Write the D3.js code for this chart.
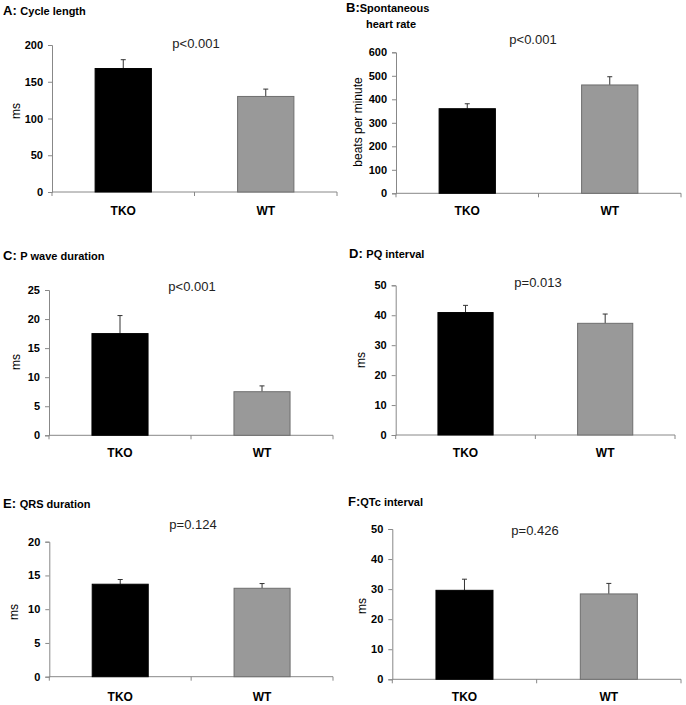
<!DOCTYPE html>
<html><head><meta charset="utf-8">
<script src="https://cdn.jsdelivr.net/npm/d3@7"></script>
<style>
html,body{margin:0;padding:0;background:#fff;}
svg{display:block;font-family:Arial,"Liberation Sans",sans-serif;}
</style></head>
<body>
<svg id="chart" width="686" height="705"></svg>
<script>
// ---- data ----
const categories = ["TKO", "WT"];
const panelLetters = ["A: ", "B:", "C: ", "D: ", "E: ", "F:"];
const panelTitles = [["Cycle length"], ["Spontaneous", "heart rate"], ["P wave duration"], ["PQ interval"], ["QRS duration"], ["QTc interval"]];
const yLabels = ["ms", "beats per minute", "ms", "ms", "ms", "ms"];
const pValues = ["p<0.001", "p<0.001", "p<0.001", "p=0.013", "p=0.124", "p=0.426"];
const meanTKO = [168, 360, 17.5, 40.9, 13.7, 29.6];
const meanWT  = [130, 461, 7.5, 37.3, 13.1, 28.4];
const errTKO  = [12, 21, 3.1, 2.4, 0.7, 3.7];
const errWT   = [10, 35, 1.0, 3.1, 0.7, 3.5];
const yMax    = [200, 600, 25, 50, 20, 50];
const yStep   = [50, 100, 5, 10, 5, 10];

// ---- layout (pixel geometry per panel) ----
const layout = [
  {x0:52,  x1:337, yT:45,  yB:192, tx:3,   ty:15,  px:196, py:48,  lx:16,  ly:111, cy:215},
  {x0:396, x1:681, yT:52.3,yB:193.3,tx:346, ty:12,  px:533, py:44,  lx:358, ly:122, cy:215},
  {x0:49,  x1:333, yT:290, yB:435.3,tx:3,   ty:260, px:192, py:291, lx:16,  ly:362, cy:457},
  {x0:395.7,x1:675,yT:285.3,yB:435, tx:349, ty:258, px:538, py:287, lx:361, ly:360, cy:457},
  {x0:49.3,x1:333, yT:541.7,yB:676.7,tx:3,  ty:507.5,px:193,py:529, lx:14,  ly:612, cy:701},
  {x0:392.3,x1:681,yT:529, yB:679.3,tx:348, ty:506, px:535, py:535, lx:362, ly:606, cy:701}
];

const svg = d3.select("#chart");
const axisColor = "#888";
const fills = ["#000000", "#999999"];
const strokes = ["#000000", "#6e6e6e"];

layout.forEach((L, i) => {
  const g = svg.append("g");
  const x = d3.scaleBand().domain(categories).range([L.x0, L.x1]).paddingInner(0).paddingOuter(0);
  const y = d3.scaleLinear().domain([0, yMax[i]]).range([L.yB, L.yT]);
  const ticks = d3.range(0, yMax[i] + yStep[i] / 2, yStep[i]);

  // y axis
  const ya = g.append("g").attr("transform", `translate(${L.x0},0)`)
    .call(d3.axisLeft(y).tickValues(ticks).tickSize(4).tickPadding(5).tickFormat(d3.format("d")));
  ya.select(".domain").attr("stroke", axisColor);
  ya.selectAll(".tick line").attr("stroke", axisColor);
  ya.selectAll(".tick text").attr("font-size", 11).attr("font-weight", "bold")
    .attr("fill", "#000").attr("font-family", "Arial, 'Liberation Sans', sans-serif");

  // x axis line + ticks at band boundaries
  g.append("line").attr("x1", L.x0).attr("x2", L.x1).attr("y1", L.yB).attr("y2", L.yB)
    .attr("stroke", axisColor).attr("stroke-width", 1);
  const bounds = [L.x0, x(categories[1]), L.x1];
  g.selectAll(".xt").data(bounds).enter().append("line")
    .attr("x1", d => d).attr("x2", d => d).attr("y1", L.yB).attr("y2", L.yB + 4)
    .attr("stroke", axisColor);

  const means = [meanTKO[i], meanWT[i]];
  const errs = [errTKO[i], errWT[i]];
  const bw = x.bandwidth() * 0.395;
  const data = categories.map((c, k) => ({c, v: means[k], e: errs[k], k}));

  // error bars (upper only)
  data.forEach(d => {
    const cx = x(d.c) + x.bandwidth() / 2;
    g.append("line").attr("x1", cx).attr("x2", cx).attr("y1", y(d.v)).attr("y2", y(d.v + d.e))
      .attr("stroke", "#333").attr("stroke-width", 1);
    g.append("line").attr("x1", cx - 2.5).attr("x2", cx + 2.5).attr("y1", y(d.v + d.e)).attr("y2", y(d.v + d.e))
      .attr("stroke", "#333").attr("stroke-width", 1);
  });

  // bars
  g.selectAll(".bar").data(data).enter().append("rect")
    .attr("x", d => x(d.c) + x.bandwidth() / 2 - bw / 2)
    .attr("width", bw)
    .attr("y", d => y(d.v))
    .attr("height", d => y(0) - y(d.v))
    .attr("fill", d => fills[d.k])
    .attr("stroke", d => strokes[d.k]).attr("stroke-width", 1);

  // category labels
  g.selectAll(".cat").data(categories).enter().append("text")
    .attr("x", d => x(d) + x.bandwidth() / 2).attr("y", L.cy)
    .attr("text-anchor", "middle").attr("font-size", 12).attr("font-weight", "bold").text(d => d);

  // p-value
  g.append("text").attr("x", L.px).attr("y", L.py).attr("text-anchor", "middle")
    .attr("font-size", 13).attr("fill", "#222").text(pValues[i]);

  // y label
  g.append("text").attr("transform", `translate(${L.lx},${L.ly}) rotate(-90)`)
    .attr("text-anchor", "middle").attr("dy", "0.35em").attr("font-size", 12).text(yLabels[i]);

  // title
  const t = g.append("text").attr("x", L.tx).attr("y", L.ty).attr("font-weight", "bold")
    .attr("xml:space", "preserve").style("white-space", "pre");
  t.append("tspan").attr("font-size", 13).text(panelLetters[i]);
  t.append("tspan").attr("font-size", 11).text(panelTitles[i][0]);
  if (panelTitles[i].length > 1) {
    g.append("text").attr("x", L.tx + 20).attr("y", L.ty + 16).attr("font-weight", "bold")
      .attr("font-size", 11).text(panelTitles[i][1]);
  }
});
</script>
</body></html>
